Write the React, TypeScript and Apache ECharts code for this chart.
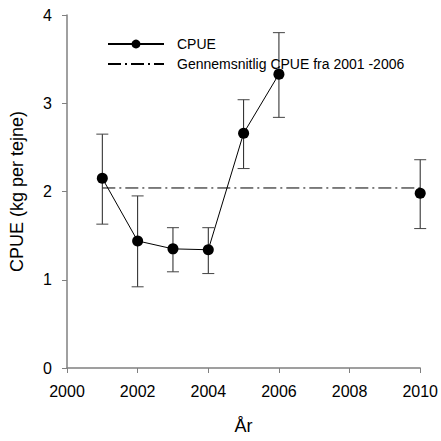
import React, { useEffect, useRef } from "react";
import * as echarts from "echarts";

const years = [2001, 2002, 2003, 2004, 2005, 2006];
const cpue = [2.15, 1.44, 1.35, 1.34, 2.66, 3.33];
const upper = [2.65, 1.95, 1.59, 1.59, 3.04, 3.8];
const lower = [1.63, 0.92, 1.09, 1.07, 2.26, 2.84];
const year2010 = 2010;
const cpue2010 = 1.98;
const upper2010 = 2.36;
const lower2010 = 1.58;
const meanValue = 2.04;
const meanRange = [2001, 2010];
const xTicks = [2000, 2002, 2004, 2006, 2008, 2010];
const yTicks = [0, 1, 2, 3, 4];

const FONT = "Liberation Sans, Arial, sans-serif";

export default function App() {
  const ref = useRef<HTMLDivElement>(null);
  useEffect(() => {
    if (!ref.current) return;
    const chart = echarts.init(ref.current, null, { renderer: "svg" });
    const errData = years
      .map((y, i) => [y, lower[i], upper[i]])
      .concat([[year2010, lower2010, upper2010]]);
    chart.setOption({
      animation: false,
      backgroundColor: "#fff",
      textStyle: { fontFamily: FONT },
      grid: { left: 67, right: 19, top: 15, bottom: 73 },
      legend: {
        orient: "vertical",
        left: 102,
        top: 32,
        itemWidth: 56,
        itemHeight: 11,
        itemGap: 6,
        textStyle: { fontFamily: FONT, fontSize: 14, lineHeight: 14, color: "#000", padding: [0, 0, 0, 8] },
        data: [
          "CPUE",
          { name: "Gennemsnitlig CPUE fra 2001 -2006", itemStyle: { opacity: 0 } },
        ],
      },
      xAxis: {
        type: "value",
        min: 2000,
        max: 2010,
        interval: 2,
        name: "År",
        nameLocation: "middle",
        nameGap: 49,
        nameTextStyle: { fontFamily: FONT, fontSize: 18, color: "#000" },
        axisLine: { show: true, onZero: false, lineStyle: { color: "#808080", width: 1.5 } },
        axisTick: { show: true, inside: false, length: 5, lineStyle: { color: "#808080" } },
        axisLabel: {
          margin: 15,
          fontFamily: FONT,
          fontSize: 16,
          color: "#000",
          formatter: (v: number) => (xTicks.includes(v) ? String(v) : ""),
        },
        splitLine: { show: false },
      },
      yAxis: {
        type: "value",
        min: 0,
        max: 4,
        interval: 1,
        name: "CPUE (kg per tejne)",
        nameLocation: "middle",
        nameGap: 41,
        nameRotate: 90,
        nameTextStyle: { fontFamily: FONT, fontSize: 18, color: "#000" },
        axisLine: { show: true, lineStyle: { color: "#808080", width: 1.5 } },
        axisTick: { show: true, inside: false, length: 5, lineStyle: { color: "#808080" } },
        axisLabel: {
          margin: 15,
          fontFamily: FONT,
          fontSize: 16,
          color: "#000",
          formatter: (v: number) => (yTicks.includes(v) ? String(v) : ""),
        },
        splitLine: { show: false },
      },
      series: [
        {
          name: "Gennemsnitlig CPUE fra 2001 -2006",
          type: "line",
          data: [
            [meanRange[0], meanValue],
            [meanRange[1], meanValue],
          ],
          symbol: "none",
          lineStyle: { color: "#000", width: 1, type: [13, 4, 2, 4] },
          itemStyle: { color: "#000" },
          z: 1,
        },
        {
          name: "errors",
          type: "custom",
          data: errData,
          renderItem: (params: any, api: any) => {
            const x = api.value(0);
            const lo = api.coord([x, api.value(1)]);
            const hi = api.coord([x, api.value(2)]);
            const w = 6;
            const style = { stroke: "#222", lineWidth: 1 };
            return {
              type: "group",
              children: [
                { type: "line", shape: { x1: lo[0], y1: lo[1], x2: hi[0], y2: hi[1] }, style },
                { type: "line", shape: { x1: lo[0] - w, y1: lo[1], x2: lo[0] + w, y2: lo[1] }, style: { stroke: "#444", lineWidth: 1 } },
                { type: "line", shape: { x1: hi[0] - w, y1: hi[1], x2: hi[0] + w, y2: hi[1] }, style: { stroke: "#444", lineWidth: 1 } },
              ],
            };
          },
          z: 2,
        },
        {
          name: "CPUE",
          type: "line",
          data: years.map((y, i) => [y, cpue[i]]),
          symbol: "circle",
          symbolSize: 11,
          lineStyle: { color: "#000", width: 1 },
          itemStyle: { color: "#000" },
          z: 3,
        },
        {
          name: "CPUE",
          type: "scatter",
          data: [[year2010, cpue2010]],
          symbol: "circle",
          symbolSize: 11,
          itemStyle: { color: "#000", opacity: 1 },
          z: 3,
        },
      ],
    });
    return () => chart.dispose();
  }, []);
  return <div ref={ref} style={{ width: 441, height: 441, position: "absolute", left: 0, top: 0 }} />;
}
